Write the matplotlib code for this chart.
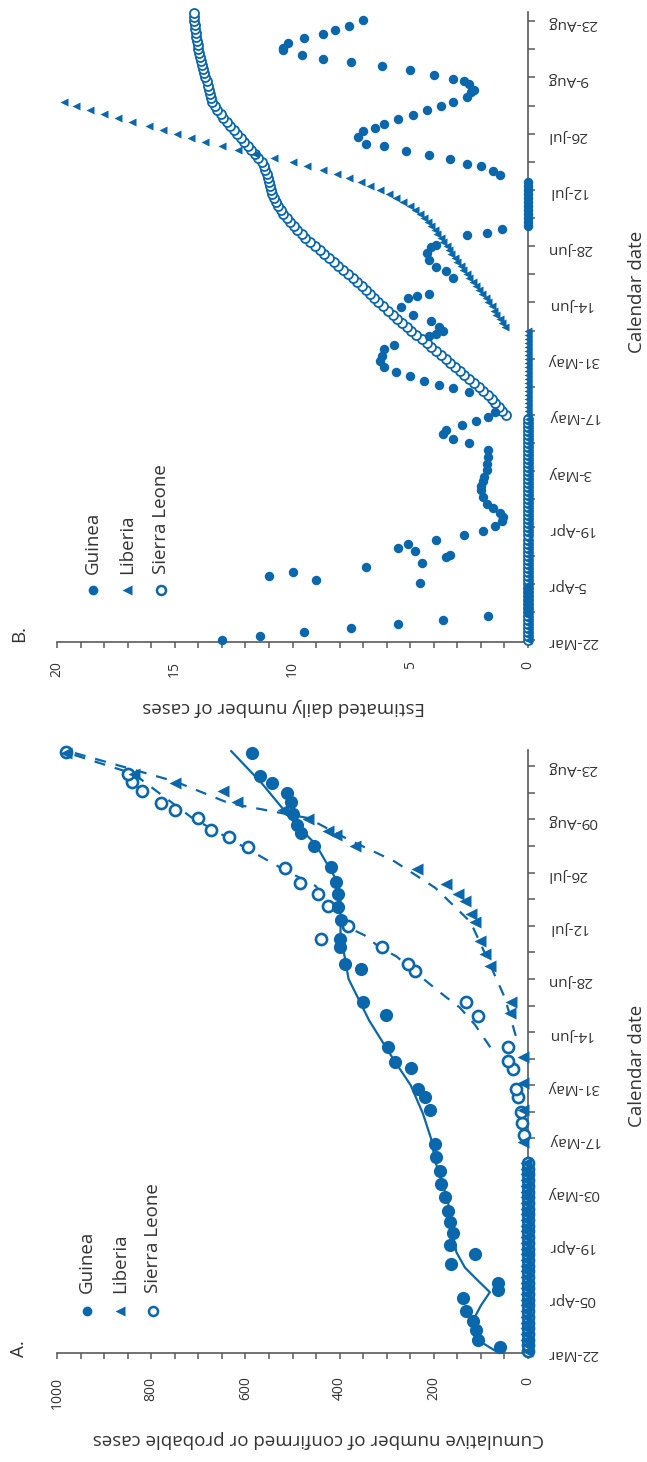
import matplotlib
matplotlib.use('Agg')
from matplotlib import pyplot as plt
from matplotlib.lines import Line2D
from matplotlib.ticker import MultipleLocator

plt.rcParams['font.family'] = ['Open Sans', 'DejaVu Sans']

BLUE = '#0b67ac'
GREY = '#5a5a5a'
TXT = '#333333'

# day offsets counted from 22-Mar (2014)
date_ticks = [0, 14, 28, 42, 56, 70, 84, 98, 112, 126, 140, 154]
a_date_labels = ['22-Mar', '05-Apr', '19-Apr', '03-May', '17-May', '31-May',
                 '14-Jun', '28-Jun', '12-Jul', '26-Jul', '09-Aug', '23-Aug']
b_date_labels = ['22-Mar', '5-Apr', '19-Apr', '3-May', '17-May', '31-May',
                 '14-Jun', '28-Jun', '12-Jul', '26-Jul', '9-Aug', '23-Aug']
countries = ['Guinea', 'Liberia', 'Sierra Leone']

# ---- panel A: cumulative cases ----
gui_a_days = [1, 3, 5.5, 8, 10.5, 14, 16, 18, 23, 25.5, 28, 31, 34, 37, 40.5, 44, 47.5,
              51, 54.5, 63.5, 67, 69, 74.5, 76, 80, 88.5, 92, 100.5, 102, 106.5, 108.5,
              113.5, 117, 120.5, 123.5, 127.5, 133, 136.5, 138.5, 141.5, 144.5, 147,
              149.5, 151.5, 157.5]
gui_a_vals = [60, 106, 110, 117, 131, 138, 64, 64, 163, 113, 166, 159, 166, 170, 177, 184, 187,
              195, 198, 209, 219, 234, 248, 283, 297, 301, 350, 354, 389, 400, 400,
              397, 403, 403, 407, 418, 455, 481, 490, 499, 503, 512, 543, 569, 587]
gui_fit_days = [-0.5, 3, 8, 12, 15.5, 19, 22, 26, 31, 39.5, 50, 56, 62.5, 70, 76.5, 87, 98,
                110, 120, 125, 133.5, 139, 149.5, 158]
gui_fit_vals = [62, 108, 117, 100, 81, 110, 134, 152, 160, 170, 197, 206, 223, 249, 284, 337,
                381, 398, 398, 411, 451, 495, 565, 630]

# early daily reports sitting on the zero line
band_a_days = [0, 1.5, 3, 4.5, 6, 7.5, 9, 10.5, 12, 13.5, 15, 16.5, 18, 19.5, 21, 22.5, 24,
               25.5, 27, 28.5, 30, 31.5, 33, 34.5, 36, 37.5, 39, 40.5, 42, 43.5, 45, 46.5,
               48, 49.5]
lib_a_days = band_a_days + [55, 63.5, 70.5, 77.5, 89, 92, 101.5, 104.5, 108, 113, 115, 118.5,
                            120.5, 123, 127, 133, 136, 137, 140, 141.5, 142.5, 144.5, 147.5,
                            149.5, 152, 157.5]
lib_a_vals = [3, 3, 4, 4, 5, 5, 5, 5, 5, 5, 5, 5, 5, 5, 5, 5, 5,
              5, 5, 5, 5, 5, 5, 5, 5, 5, 5, 5, 5, 5, 5, 5,
              5, 5] + [11, 11, 11, 11, 39, 36, 81, 92, 103, 113, 121, 134,
                       149, 174, 236, 368, 407, 425, 468, 508, 521, 617, 648,
                       749, 837, 981]
lib_fit_days = [83, 93, 103, 113, 122, 129, 134.7, 140.4, 144.3, 150, 158.3]
lib_fit_vals = [26, 49, 85, 122, 197, 284, 381, 468, 635, 749, 985]

sl_a_days = band_a_days + [57, 60, 63, 66.8, 69, 74.3, 76.5, 80, 88.3, 91.8, 100.1, 101.9,
                           106.3, 108.5, 112, 117.2, 120.3, 123.3, 127.3, 132.8, 135.3,
                           137.2, 140.4, 142.4, 144.3, 147.4, 150, 151.9, 157.7]
sl_a_vals = [0] * 34 + [8, 12, 15, 21, 25, 32, 42, 42, 106, 131, 241, 255,
                        311, 439, 382, 425, 446, 485, 517, 595, 635,
                        674, 700, 749, 779, 819, 840, 849, 981]
sl_fit_days = [80, 86, 90.5, 93.5, 97, 101, 104, 106, 109.5, 112, 122.5, 127, 135, 140.5,
               152, 157.7]
sl_fit_vals = [80, 113, 145, 177, 212, 251, 280, 312, 347, 389, 451, 521, 635, 714, 837, 981]

# ---- panel B: estimated daily cases ----
gui_b_days = [0, 1, 2, 3, 4, 5, 6,
              7, 8, 9, 10, 11, 12, 13,
              14.1, 15, 15.9, 17, 18.1, 19.2, 20.6, 21.1, 22.2, 23, 23.9, 25, 26.1, 27, 28.4, 29.5,
              30.5, 31.7, 32.8, 33.9, 35.6, 37.3, 38.4, 39.5, 40.6, 42.3, 43.9, 45.6, 47.3,
              48.9, 50, 51.2, 52.3, 53.4, 54.5, 55.6, 56.7,
              61.7, 62.8, 63.4, 64.5, 65.6, 66.7, 67.9, 69.5, 70.6, 72.3, 73.4, 75.6, 76.2, 76.8,
              77.9, 79.3, 81, 82.9, 85.2, 85.7, 86.2, 90.1, 91.8, 92.9, 94.5, 96.2, 97.9, 98.4,
              100.7, 101.2, 102.3,
              103, 104, 105, 106, 107, 108, 109, 110, 111, 112, 113, 114,
              115.7, 116.8, 117.9, 118.5, 119.6, 120.7, 121.8, 122.9, 123.5, 125.1, 126.8, 127.4,
              128.5, 129.6, 130.7, 131.8, 132.9, 134, 135.2, 136.3, 136.8, 138.5, 139, 139.6,
              140.7, 141.8, 142.9, 143.8, 144.6, 145.7, 146.8, 147.4, 148.5, 149.8, 150.7, 151.8,
              152.7, 154.4]
gui_b_vals = [13.0, 11.4, 9.5, 7.5, 5.5, 3.6, 1.7,
              0, 0, 0, 0, 0, 0, 0,
              4.6, 9.0, 11.0, 10.0, 6.9, 4.5, 3.5, 3.3, 4.8, 5.5, 5.1, 3.9, 2.7, 1.9, 1.4, 1.1,
              1.05, 1.2, 1.5, 1.75, 1.9, 2.0, 2.0, 1.9, 1.85, 1.75, 1.75, 1.7, 1.7,
              2.5, 3.2, 3.6, 3.5, 2.8, 2.2, 1.7, 1.4,
              2.5, 3.2, 3.8, 4.4, 5.0, 5.6, 6.1, 6.3, 6.2, 6.1, 5.7, 4.2, 3.9, 3.6,
              3.8, 4.1, 4.9, 5.4, 5.1, 4.7, 4.2, 3.2, 3.5, 3.9, 4.2, 4.3, 4.1, 3.9,
              2.6, 1.75, 1.1,
              0, 0, 0, 0, 0, 0, 0, 0, 0, 0, 0, 0,
              1.2, 1.5, 2.0, 2.6, 3.3, 4.2, 5.2, 6.1, 6.9, 7.2, 7.0, 6.5,
              6.1, 5.5, 4.9, 4.3, 3.7, 3.2, 2.6, 2.4, 2.3, 2.5, 2.7, 3.2,
              4.0, 5.0, 6.2, 7.5, 8.7, 9.6, 10.4, 10.4, 10.2, 9.5, 8.7, 8.2,
              7.6, 7.0]

lib_b_days = list(range(0, 135))
lib_b_vals = [0] * 78 + [0.96, 1.1, 1.2, 1.35, 1.45, 1.55, 1.7, 1.8, 1.95, 2.1,
                         2.2, 2.35, 2.5, 2.6, 2.75, 2.85, 3.0, 3.1, 3.25, 3.35,
                         3.45, 3.6, 3.7, 3.85, 3.95, 4.1, 4.25, 4.4, 4.6, 4.8,
                         5.0, 5.3, 5.6, 5.9, 6.3, 6.7, 7.1, 7.6, 8.1, 8.7,
                         9.4, 10.0, 10.8, 11.6, 12.3, 13.0, 13.7, 14.3, 14.9, 15.5,
                         16.1, 16.8, 17.4, 18.0, 18.6, 19.2, 19.7]

sl_b_days = list(range(0, 157))
sl_b_vals = [0] * 56 + [0.95, 1.1, 1.25, 1.4, 1.55, 1.7, 1.9, 2.1, 2.3, 2.5,
                        2.7, 2.9, 3.1, 3.3, 3.5, 3.7, 3.9, 4.1, 4.3, 4.5,
                        4.75, 4.95, 5.15, 5.35, 5.55, 5.75, 5.95, 6.15, 6.35, 6.55,
                        6.7, 6.9, 7.05, 7.25, 7.45, 7.65, 7.85, 8.05, 8.25, 8.45,
                        8.65, 8.85, 9.05, 9.25, 9.45, 9.6, 9.8, 9.95, 10.1, 10.25,
                        10.4, 10.5, 10.6, 10.7, 10.8, 10.85, 10.9, 10.95, 11.0, 11.05,
                        11.1, 11.15, 11.2, 11.3, 11.45, 11.6, 11.75, 11.9, 12.05, 12.2,
                        12.35, 12.5, 12.65, 12.8, 12.95, 13.05, 13.2, 13.3, 13.4, 13.45,
                        13.5, 13.55, 13.6, 13.65, 13.7, 13.75, 13.8, 13.85, 13.9, 13.92,
                        13.95, 14.0, 14.02, 14.05, 14.08, 14.1, 14.12, 14.15, 14.17, 14.2,
                        14.2]


def style_axis(ax, vmax, vmajor, vminor, dmax, date_labels, label_pad):
    # page is turned: values run right-to-left, dates bottom-to-top
    ax.set_xlim(vmax, 0)
    ax.set_ylim(-0.5, dmax)
    ax.spines['left'].set_visible(False)
    ax.spines['top'].set_visible(False)
    for s in ('right', 'bottom'):
        ax.spines[s].set_color(GREY)
        ax.spines[s].set_linewidth(1.2)
        ax.spines[s].set_zorder(1)
    ax.yaxis.tick_right()
    ax.set_yticks(date_ticks)
    ax.set_yticklabels(date_labels)
    ax.yaxis.set_minor_locator(MultipleLocator(7))
    ax.xaxis.set_major_locator(MultipleLocator(vmajor))
    ax.xaxis.set_minor_locator(MultipleLocator(vminor))
    ax.tick_params(axis='y', which='both', direction='out', length=5, width=1.1,
                   color=GREY, labelcolor=TXT, labelsize=11, labelrotation=180, pad=9)
    ax.tick_params(axis='x', which='both', direction='out', length=4, width=1.1,
                   color=GREY, labelcolor=TXT, labelsize=10, labelrotation=90, pad=label_pad)
    ax.patch.set_visible(False)


fig = plt.figure(figsize=(6.47, 14.62), dpi=100)
axB = fig.add_axes([0.0881, 0.5609, 0.728, 0.4309])
axA = fig.add_axes([0.0881, 0.0746, 0.728, 0.4124])

# panel A
axA.plot(gui_fit_vals, gui_fit_days, '-', color=BLUE, lw=1.6, zorder=2, clip_on=False)
axA.plot(lib_fit_vals, lib_fit_days, color=BLUE, lw=1.6, ls=(0, (5, 4.5)), zorder=2, clip_on=False)
axA.plot(sl_fit_vals, sl_fit_days, color=BLUE, lw=1.6, ls=(0, (5, 4.5)), zorder=2, clip_on=False)
axA.plot(sl_a_vals, sl_a_days, 'o', color=BLUE, mfc='white', ms=8, mew=1.9, zorder=3,
         clip_on=False)
axA.plot(gui_a_vals, gui_a_days, 'o', color=BLUE, ms=9.5, mec='none', zorder=4, clip_on=False)
axA.plot(lib_a_vals, lib_a_days, '<', color=BLUE, ms=9, mec='none', zorder=4, clip_on=False)
style_axis(axA, 1000, 200, 50, 158.3, a_date_labels, 13)

# panel B
axB.plot(sl_b_vals, sl_b_days, 'o', color=BLUE, mfc='white', ms=6.5, mew=1.3, zorder=3,
         clip_on=False)
axB.plot(lib_b_vals, lib_b_days, '<', color=BLUE, ms=6, mec='none', zorder=4, clip_on=False)
axB.plot(gui_b_vals, gui_b_days, 'o', color=BLUE, ms=6.8, mec='none', zorder=5, clip_on=False)
style_axis(axB, 20, 5, 1, 156.3, b_date_labels, 10)

# axis titles, placed by hand because the page is turned
fig.text(318 / 647, 1 - 1439 / 1462, 'Cumulative number of confirmed or probable cases',
         rotation=180, ha='center', va='center', fontsize=13.5, color=TXT)
fig.text(284 / 647, 1 - 707 / 1462, 'Estimated daily number of cases',
         rotation=180, ha='center', va='center', fontsize=13.5, color=TXT)
fig.text(637 / 647, 1 - 1066 / 1462, 'Calendar date', rotation=90,
         ha='center', va='center', fontsize=13.5, color=TXT)
fig.text(637 / 647, 1 - 292 / 1462, 'Calendar date', rotation=90,
         ha='center', va='center', fontsize=13.5, color=TXT)
fig.text(19 / 647, 1 - 1349 / 1462, 'A.', rotation=90, ha='center', va='center',
         fontsize=13.5, color=TXT)
fig.text(19 / 647, 1 - 634 / 1462, 'B.', rotation=90, ha='center', va='center',
         fontsize=13.5, color=TXT)

# legends, turned with the page
legend_styles = [dict(marker='o', mfc=BLUE, mec='none', ms=7),
                 dict(marker='<', mfc=BLUE, mec='none', ms=6.5),
                 dict(marker='o', mfc='white', mec=BLUE, mew=1.8, ms=6.5)]
for xs, y_mark, y_text in (([87, 120, 153], 1311, 1293), ([93, 127, 161], 590, 574)):
    for x, name, st in zip(xs, countries, legend_styles):
        fig.add_artist(Line2D([x / 647], [1 - y_mark / 1462], ls='none',
                              transform=fig.transFigure, **st))
        fig.text(x / 647, 1 - y_text / 1462, name, rotation=90, ha='center', va='bottom',
                 fontsize=13.5, color=TXT)

fig.savefig('out.png', dpi=100)
